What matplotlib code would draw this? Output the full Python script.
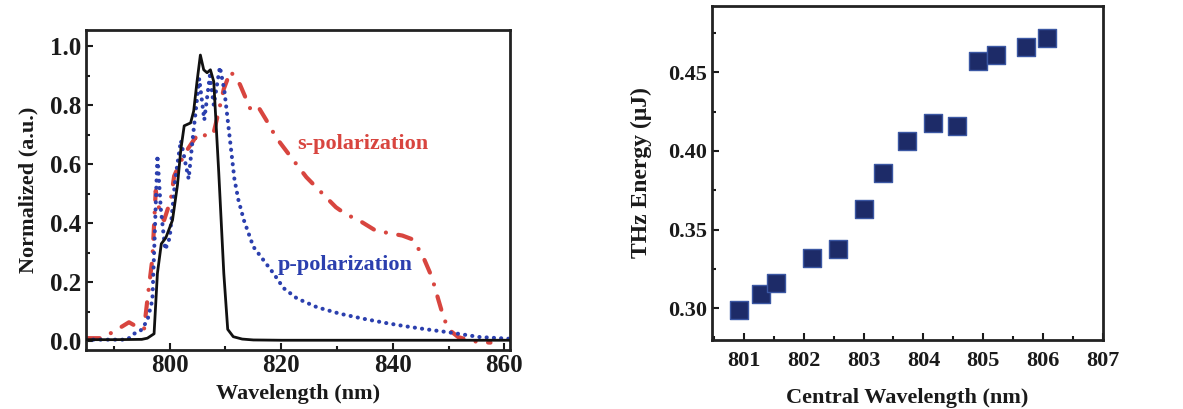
import matplotlib
matplotlib.use("Agg")
import matplotlib.pyplot as plt
from matplotlib.ticker import MultipleLocator

plt.rcParams['font.family'] = ['Liberation Serif', 'DejaVu Serif']
plt.rcParams['font.weight'] = 'bold'

# ---- Left panel data: normalized spectra ----
black_wl = [785, 790, 795, 796, 797.2, 797.8, 798.5, 799.3, 800.5, 801.4, 802.0, 802.6,
            803.75, 804.3, 804.9, 805.5, 806.1, 806.7, 807.3, 807.9, 808.8, 809.7, 810.4,
            811.4, 813, 815, 820, 840, 861]
black_val = [0.005, 0.005, 0.006, 0.01, 0.025, 0.23, 0.33, 0.35, 0.41, 0.53, 0.65, 0.73,
             0.74, 0.78, 0.88, 0.97, 0.92, 0.91, 0.92, 0.88, 0.57, 0.23, 0.04,
             0.015, 0.007, 0.004, 0.003, 0.003, 0.003]

p_wl = [785, 790, 792.4, 793.6, 794.8, 796.0, 796.9, 797.3, 797.8, 798.4, 799.2, 800.0,
        801.0, 802.0, 803.4, 804.2, 805.3, 806.2, 807.2, 807.9, 809.0, 809.8, 810.4, 811.0,
        811.6, 812.3, 813.3, 815.0, 817.0, 818.6, 820.4, 822.8, 826.4, 830.5, 834.7, 838.9,
        842.4, 846.0, 850.0, 855.5, 861.0]
p_val = [0.005, 0.005, 0.005, 0.025, 0.036, 0.07, 0.14, 0.35, 0.63, 0.45, 0.31, 0.35,
         0.55, 0.68, 0.55, 0.70, 0.89, 0.75, 0.90, 0.80, 0.93, 0.85, 0.75, 0.65,
         0.55, 0.48, 0.41, 0.32, 0.27, 0.23, 0.18, 0.145, 0.115, 0.093, 0.076, 0.061,
         0.05, 0.04, 0.03, 0.014, 0.008]

s_wl = [785, 788, 789.7, 791.5, 792.7, 794.0, 795.4, 796.0, 796.9, 797.5, 798.3, 799.0,
        800.2, 800.8, 802.0, 803.2, 804.6, 805.5, 806.4, 807.8, 808.8, 809.7, 810.9,
        812.6, 814.4, 815.7, 817.3, 819.1, 821.5, 824.5, 827.4, 829.8, 831.6, 833.9,
        836.9, 839.9, 841.7, 843.4, 845.2, 847.0, 848.2, 849.1, 850.0, 851.7, 853.5, 855.3, 857.5]
s_val = [0.01, 0.01, 0.03, 0.05, 0.064, 0.05, 0.04, 0.14, 0.28, 0.51, 0.43, 0.41,
         0.48, 0.56, 0.61, 0.65, 0.69, 0.68, 0.70, 0.70, 0.78, 0.855, 0.915,
         0.87, 0.79, 0.80, 0.75, 0.69, 0.63, 0.556, 0.50, 0.454, 0.43, 0.41,
         0.375, 0.364, 0.358, 0.346, 0.296, 0.217, 0.138, 0.08, 0.04, 0.014, 0.004, -0.003, -0.005]

# ---- Right panel data: THz energy vs central wavelength ----
central_wl = [800.92, 801.29, 801.54, 802.14, 802.57, 803.0, 803.32, 803.73, 804.16,
              804.56, 804.92, 805.21, 805.72, 806.07]
thz_energy = [0.299, 0.3095, 0.316, 0.332, 0.338, 0.363, 0.386, 0.406, 0.418,
              0.416, 0.457, 0.461, 0.466, 0.472]

fig = plt.figure(figsize=(11.83, 4.09), dpi=100)

txt = '#1a1a1a'
red = '#d8453f'
blue = '#2b3fae'

# Left axes
ax1 = fig.add_axes([0.0727, 0.1443, 0.3584, 0.7824])
ax1.plot(black_wl, black_val, color='#111111', lw=2.0, zorder=3)
ax1.plot(p_wl, p_val, color=blue, lw=2.9, linestyle=(0, (0.05, 1.75)),
         dash_capstyle='round', solid_capstyle='round', zorder=2)
ax1.plot(s_wl, s_val, color=red, lw=3.0, linestyle=(0, (3.3, 3.0, 0.01, 3.0)),
         dash_capstyle='round', zorder=1)
ax1.set_xlim(785, 861)
ax1.set_ylim(-0.03, 1.055)
ax1.xaxis.set_major_locator(MultipleLocator(20))
ax1.xaxis.set_minor_locator(MultipleLocator(10))
ax1.yaxis.set_major_locator(MultipleLocator(0.2))
ax1.yaxis.set_minor_locator(MultipleLocator(0.1))
ax1.yaxis.set_major_formatter(matplotlib.ticker.FormatStrFormatter('%.1f'))
ax1.tick_params(which='both', direction='in', top=False, right=False,
                labelsize=18, colors=txt, width=1.5)
ax1.tick_params(which='major', length=5)
ax1.tick_params(which='minor', length=3)
ax1.tick_params(axis='x', pad=3)
ax1.set_xlabel('Wavelength (nm)', fontsize=16, fontweight='bold', color=txt, labelpad=5)
ax1.set_ylabel('Normalized (a.u.)', fontsize=16, fontweight='bold', color=txt, labelpad=8)
for sp in ax1.spines.values():
    sp.set_linewidth(2)
    sp.set_color('#222222')
ax1.text(822.9, 0.67, 's-polarization', color=red, fontsize=16, fontweight='bold',
         va='center', ha='left')
ax1.text(819.3, 0.257, 'p-polarization', color=blue, fontsize=16, fontweight='bold',
         va='center', ha='left')

# Right axes
ax2 = fig.add_axes([0.6019, 0.1687, 0.3305, 0.8166])
ax2.scatter(central_wl, thz_energy, marker='s', s=150, facecolor='#1d2b68',
            edgecolor='#3b57a3', linewidths=1.0, zorder=3)
ax2.set_xlim(800.47, 807)
ax2.set_ylim(0.28, 0.492)
ax2.xaxis.set_major_locator(MultipleLocator(1))
ax2.xaxis.set_minor_locator(MultipleLocator(0.5))
ax2.yaxis.set_major_locator(MultipleLocator(0.05))
ax2.yaxis.set_minor_locator(MultipleLocator(0.025))
ax2.yaxis.set_major_formatter(matplotlib.ticker.FormatStrFormatter('%.2f'))
ax2.xaxis.set_major_formatter(matplotlib.ticker.FormatStrFormatter('%d'))
ax2.tick_params(which='both', direction='in', top=False, right=False,
                labelsize=16, colors=txt, width=1.5)
ax2.tick_params(which='major', length=5)
ax2.tick_params(which='minor', length=3)
ax2.tick_params(axis='x', pad=8)
ax2.set_xlabel('Central Wavelength (nm)', fontsize=16, fontweight='bold', color=txt, labelpad=12)
ax2.set_ylabel('THz Energy (\u03bcJ)', fontsize=17, fontweight='bold', color=txt, labelpad=12)
for sp in ax2.spines.values():
    sp.set_linewidth(2)
    sp.set_color('#222222')

fig.savefig('out.png', dpi=100)
